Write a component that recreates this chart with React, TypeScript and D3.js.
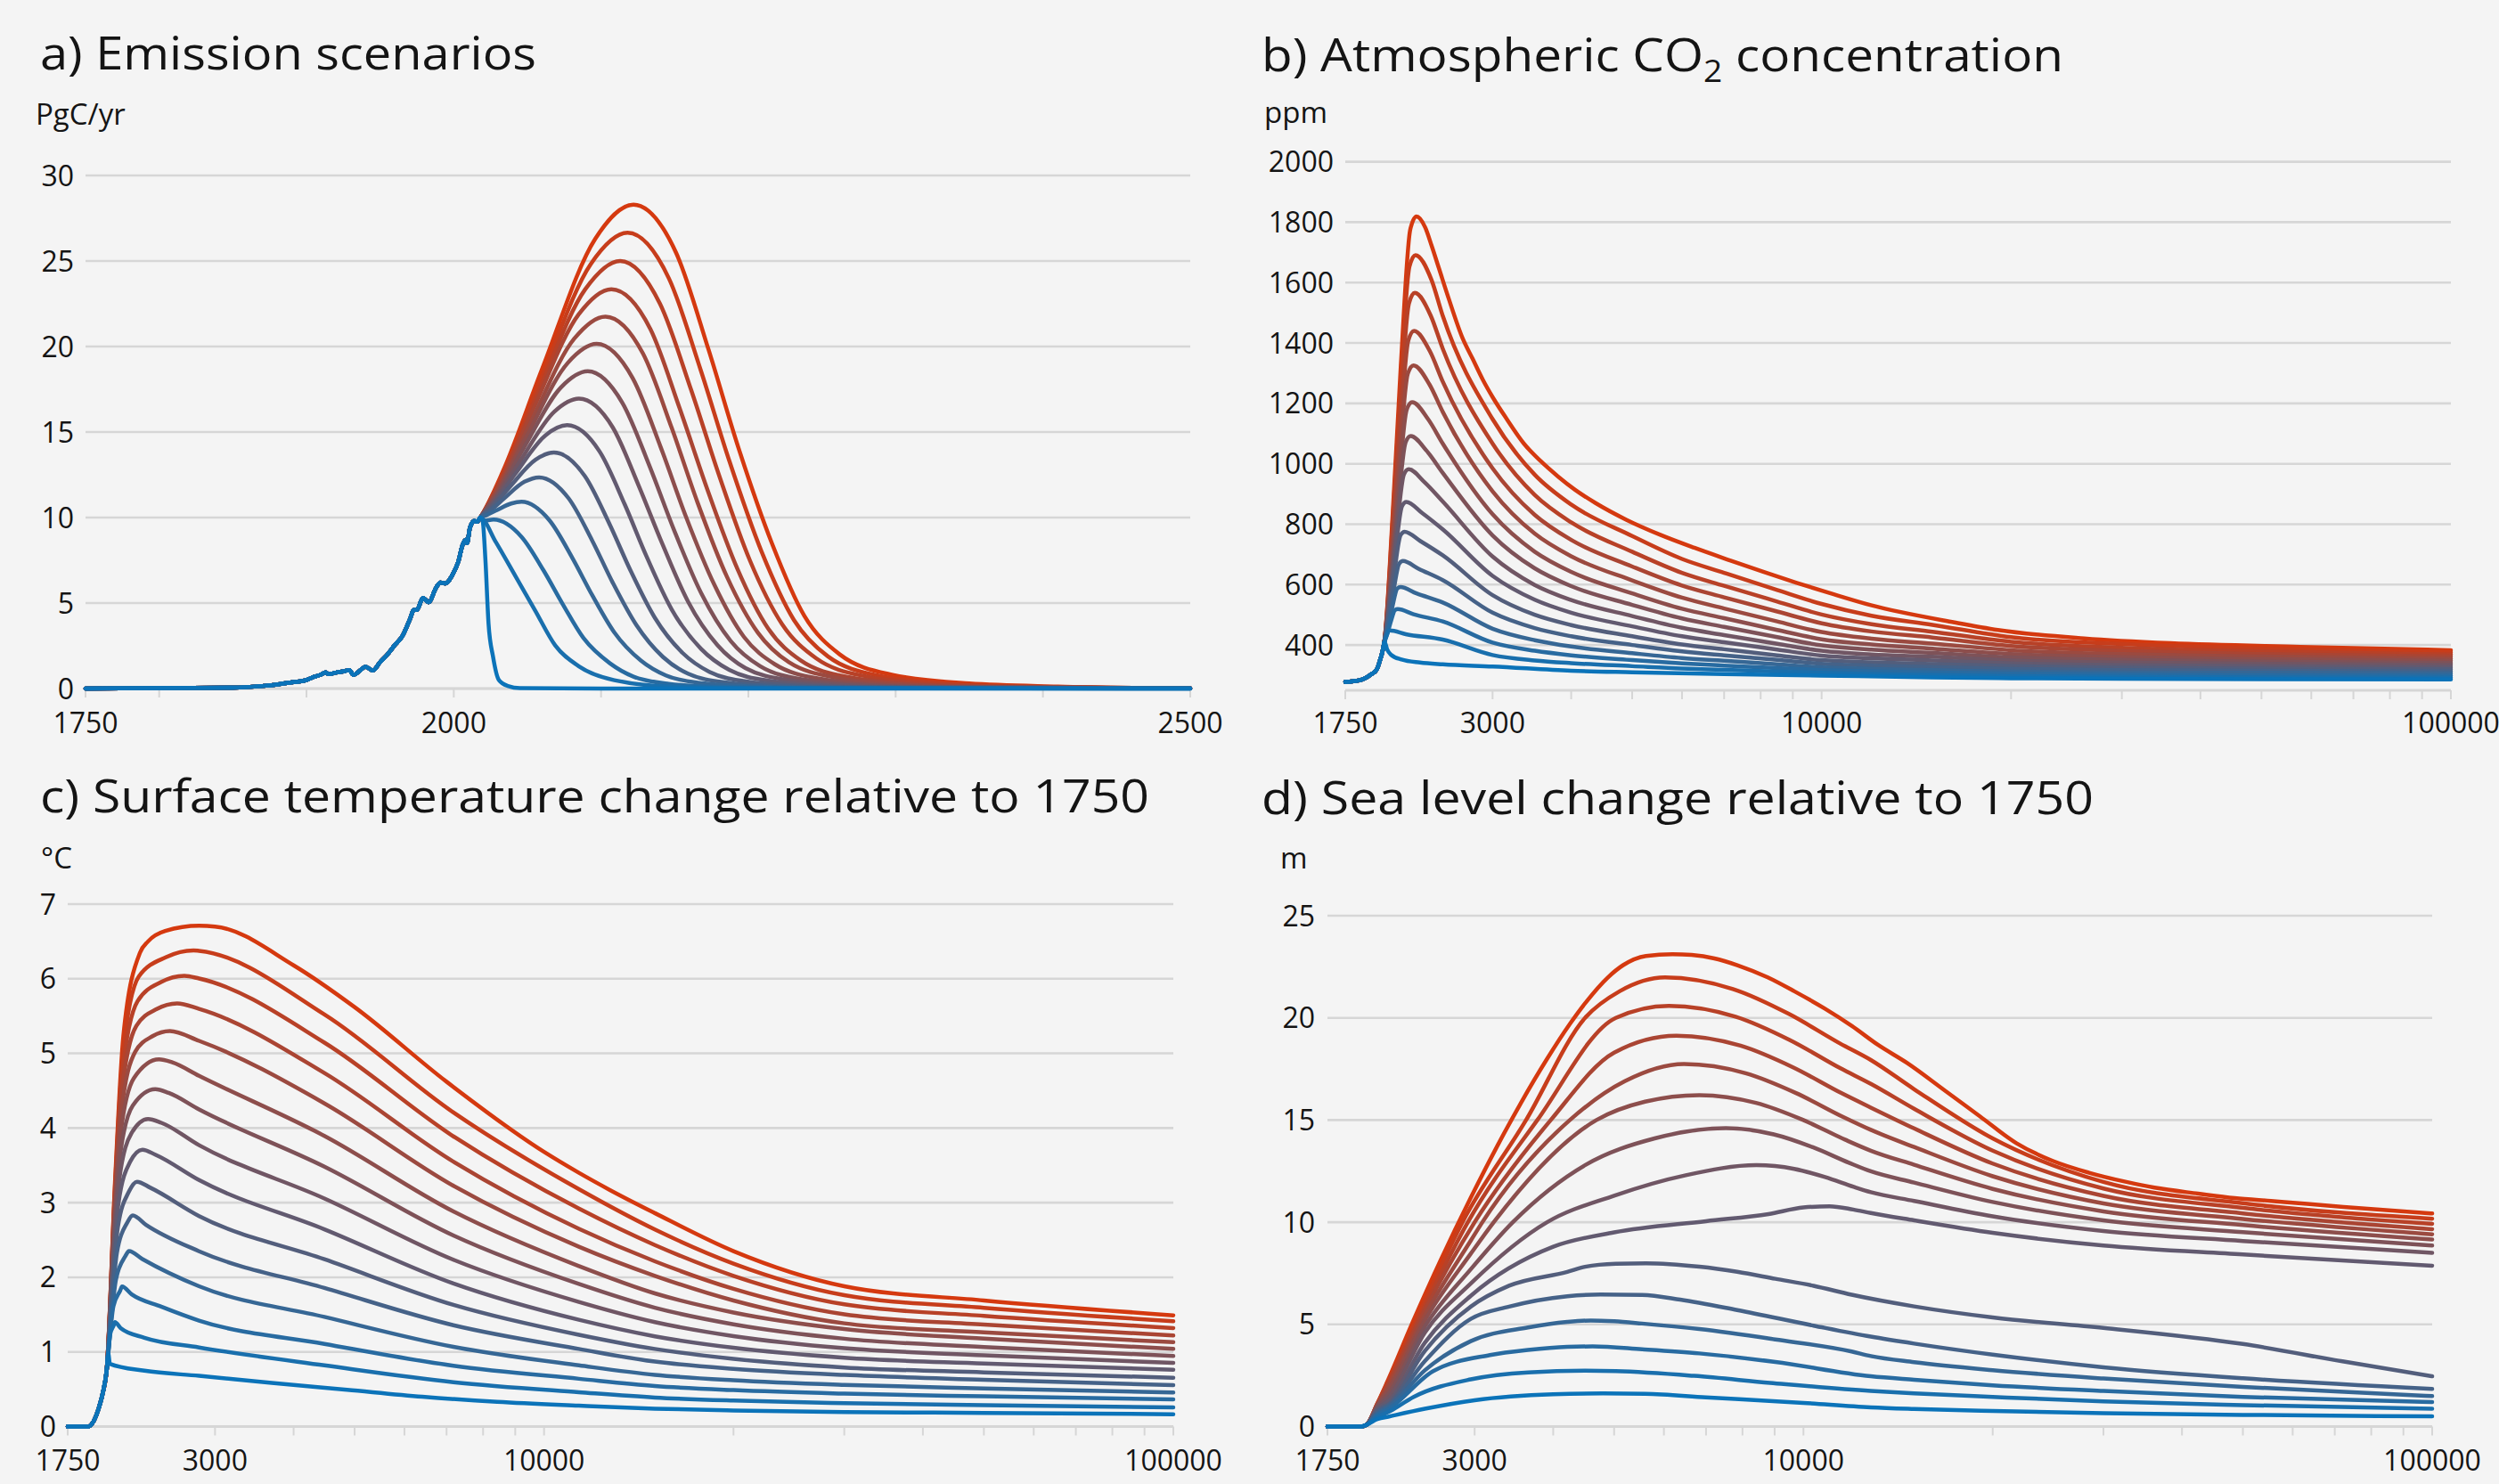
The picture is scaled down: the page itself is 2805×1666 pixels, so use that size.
import React from "react";
import * as d3 from "d3";

type Pt = [number, number];

const WIDTH = 2805;
const HEIGHT = 1666;
const FONT = "'Open Sans', 'Noto Sans', 'DejaVu Sans', sans-serif";
const BLUE = "#0b73b9";
const RED = "#d5390f";
const GRID = "#d6d6d6";
const BG = "#f4f4f4";
const TEXT = "#141414";

// ---------------- a) Emission scenarios (PgC/yr) ----------------
const emissionHistory: Pt[] = [
  [1750, 0], [1850, 0.05], [1870, 0.15], [1880, 0.24], [1890, 0.36], [1900, 0.5], [1905, 0.68],
  [1910, 0.82], [1913, 0.95], [1915, 0.84], [1920, 0.93], [1925, 1.0], [1929, 1.08], [1932, 0.8],
  [1937, 1.1], [1940, 1.28], [1945, 1.06], [1950, 1.55], [1955, 2.0], [1960, 2.55], [1965, 3.05],
  [1970, 4.0], [1973, 4.6], [1975, 4.6], [1979, 5.3], [1983, 5.05], [1988, 5.9], [1991, 6.2],
  [1994, 6.15], [2000, 6.8], [2003, 7.4], [2006, 8.4], [2008, 8.7], [2009, 8.5], [2011, 9.4],
  [2014, 9.8], [2016, 9.75], [2018, 10],
];
const emissionScenarios: Pt[][] = [
  [[2018, 10], [2019.6, 9.8], [2021.5, 7.5], [2023.6, 3.8], [2026.6, 1.89], [2030.6, 0.5], [2036.7, 0.15], [2045, 0.02], [2100, 0], [2500, 0]],
  [[2018, 10], [2028.4, 8.59], [2041.9, 6.57], [2055.4, 4.54], [2068.9, 2.52], [2085, 1.3], [2109, 0.49], [2150, 0.1], [2210, 0.02], [2500, 0]],
  [[2018, 10], [2020, 9.8], [2027, 9.88], [2046, 8.87], [2061, 6.9], [2074, 4.93], [2088, 2.96], [2106, 1.48], [2122, 0.7], [2146, 0.28], [2181, 0.1], [2222, 0.04], [2500, 0]],
  [[2018, 10], [2022.2, 10.14], [2029.2, 10.43], [2039, 10.82], [2046, 10.92], [2065, 9.83], [2080.5, 7.64], [2094, 5.46], [2109, 3.28], [2127, 1.64], [2144, 0.77], [2169, 0.31], [2205, 0.12], [2247, 0.05], [2500, 0.01]],
  [[2018, 10], [2024, 10.35], [2034, 11.1], [2048, 12.09], [2058, 12.35], [2078, 11.12], [2094, 8.65], [2108, 6.18], [2124, 3.71], [2142, 1.85], [2159, 0.87], [2185, 0.35], [2223, 0.13], [2267, 0.05], [2500, 0.01]],
  [[2018, 10], [2025.5, 10.57], [2038, 11.79], [2055.5, 13.38], [2068, 13.8], [2089, 12.42], [2105.5, 9.66], [2120, 6.9], [2136.5, 4.14], [2155.5, 2.07], [2173.5, 0.98], [2200.5, 0.39], [2239.5, 0.15], [2285.5, 0.06], [2500, 0.01]],
  [[2018, 10], [2026.9, 10.81], [2041.6, 12.54], [2062.3, 14.81], [2077, 15.4], [2099, 13.86], [2116, 10.78], [2131, 7.7], [2148, 4.62], [2168, 2.31], [2187, 1.09], [2215, 0.44], [2256, 0.16], [2303, 0.065], [2500, 0.01]],
  [[2018, 10], [2028, 11.04], [2044.8, 13.27], [2068.3, 16.19], [2085, 16.95], [2108, 15.26], [2125.5, 11.87], [2141.5, 8.48], [2159, 5.09], [2179, 2.54], [2198, 1.2], [2228, 0.48], [2270, 0.18], [2318, 0.07], [2500, 0.01]],
  [[2018, 10], [2029, 11.28], [2047.2, 14.02], [2072.8, 17.61], [2091, 18.55], [2114.5, 16.7], [2133, 12.99], [2149.5, 9.28], [2168, 5.57], [2188, 2.78], [2208, 1.31], [2238, 0.52], [2282, 0.2], [2332, 0.08], [2500, 0.01]],
  [[2018, 10], [2029.9, 11.52], [2049.6, 14.77], [2077.3, 19.03], [2097, 20.15], [2121.5, 18.14], [2140.5, 14.11], [2157.5, 10.08], [2177, 6.05], [2197, 3.02], [2218, 1.42], [2249, 0.57], [2294, 0.21], [2345, 0.085], [2500, 0.01]],
  [[2018, 10], [2030.8, 11.76], [2052, 15.52], [2081.8, 20.46], [2103, 21.75], [2128.5, 19.58], [2148, 15.23], [2165.5, 10.88], [2185.5, 6.53], [2206.5, 3.26], [2227.5, 1.54], [2260.5, 0.62], [2306.5, 0.23], [2359.5, 0.09], [2500, 0.01]],
  [[2018, 10], [2031.4, 12.0], [2053.6, 16.27], [2084.8, 21.88], [2107, 23.35], [2133.5, 21.02], [2153.5, 16.35], [2172, 11.68], [2192.5, 7.01], [2213.5, 3.5], [2235.5, 1.65], [2268.5, 0.66], [2316.5, 0.25], [2371.5, 0.1], [2500, 0.01]],
  [[2018, 10], [2032.3, 12.25], [2056, 17.05], [2089.3, 23.35], [2113, 25.0], [2140, 22.5], [2161, 17.5], [2180, 12.5], [2201, 7.5], [2223, 3.75], [2246, 1.77], [2280, 0.71], [2329, 0.27], [2386, 0.1], [2500, 0.01]],
  [[2018, 10], [2033, 12.5], [2058, 17.83], [2093, 24.82], [2118, 26.65], [2146, 23.99], [2167.5, 18.66], [2187, 13.33], [2209, 8.0], [2231, 4.0], [2254, 1.88], [2289, 0.75], [2340, 0.28], [2399, 0.11], [2500, 0.01]],
  [[2018, 10], [2033.6, 12.75], [2059.6, 18.6], [2096, 26.29], [2122, 28.3], [2151, 25.47], [2173, 19.81], [2193, 14.15], [2216, 8.49], [2238, 4.25], [2262, 2.0], [2298, 0.8], [2350, 0.3], [2410, 0.12], [2500, 0.01]],
];

// ---------------- b) Atmospheric CO2 (ppm) ----------------
const co2History: Pt[] = [
  [1750, 278], [1850, 284], [1880, 290], [1900, 295], [1930, 305], [1950, 311], [1960, 317],
  [1970, 325], [1980, 339], [1990, 354], [2000, 369], [2010, 389], [2018, 408],
];
const co2Scenarios: Pt[][] = [
  [[2018, 408], [2021, 410], [2040, 385], [2068, 368], [2150, 352], [2300, 342], [2500, 336], [3000, 329], [4000, 315], [5000, 310], [7000, 304], [10000, 299], [15000, 293], [20000, 290], [30000, 288], [50000, 287], [100000, 286]],
  [[2018, 408], [2028.5, 420], [2039, 434], [2051.6, 446.8], [2060, 448], [2184, 436], [2500, 418], [3000, 367], [3500, 349], [4000, 340], [5000, 330], [6000, 322], [7000, 318], [8500, 312], [10000, 308], [12000, 304], [15000, 301], [20000, 297], [30000, 295], [50000, 293], [100000, 292]],
  [[2018, 408], [2043.5, 441], [2069, 480], [2099.6, 516], [2120, 519], [2247, 502], [2500, 478], [3000, 408], [3500, 381], [4000, 366], [5000, 350], [6000, 339], [7000, 332], [8500, 324], [10000, 317], [12000, 313], [15000, 309], [20000, 305], [30000, 302], [50000, 300], [100000, 299]],
  [[2018, 408], [2049, 463], [2080, 528], [2117.2, 587], [2142, 592], [2271, 571], [2500, 541], [3000, 454], [3500, 416], [4000, 395], [5000, 373], [6000, 357], [7000, 348], [8500, 336], [10000, 326], [12000, 321], [15000, 317], [20000, 312], [30000, 309], [50000, 308], [100000, 306]],
  [[2018, 408], [2053.8, 489], [2089.5, 584], [2132.4, 670], [2161, 678], [2291, 652], [2500, 615], [3000, 507], [3500, 456], [4000, 429], [5000, 400], [6000, 379], [7000, 366], [8500, 351], [10000, 338], [12000, 332], [15000, 327], [20000, 321], [30000, 317], [50000, 315], [100000, 313]],
  [[2018, 408], [2057, 518], [2096, 647], [2142.8, 764], [2174, 775], [2304, 744], [2500, 697], [3000, 565], [3500, 500], [4000, 466], [5000, 429], [6000, 402], [7000, 386], [8500, 366], [10000, 350], [12000, 343], [15000, 337], [20000, 330], [30000, 325], [50000, 322], [100000, 320]],
  [[2018, 408], [2060.5, 548], [2103, 711], [2154, 860], [2188, 874], [2319, 837], [2500, 783], [3000, 629], [3500, 550], [4000, 507], [5000, 462], [6000, 429], [7000, 409], [8500, 385], [10000, 365], [12000, 356], [15000, 349], [20000, 339], [30000, 333], [50000, 330], [100000, 327]],
  [[2018, 408], [2065.3, 580], [2112.5, 781], [2169.2, 965], [2207, 982], [2339, 939], [2500, 875], [3000, 693], [3500, 599], [4000, 549], [5000, 496], [6000, 457], [7000, 433], [8500, 404], [10000, 381], [12000, 369], [15000, 361], [20000, 349], [30000, 342], [50000, 338], [100000, 334]],
  [[2018, 408], [2069.5, 613], [2121, 853], [2182.8, 1072], [2224, 1092], [2357, 1043], [2500, 970], [3000, 763], [3500, 654], [4000, 595], [5000, 533], [6000, 488], [7000, 460], [8500, 426], [10000, 399], [12000, 385], [15000, 374], [20000, 359], [30000, 351], [50000, 345], [100000, 341]],
  [[2018, 408], [2072.3, 647], [2126.5, 925], [2191.6, 1180], [2235, 1204], [2369, 1148], [2500, 1067], [3000, 833], [3500, 709], [4000, 642], [5000, 571], [6000, 520], [7000, 489], [8500, 450], [10000, 419], [12000, 402], [15000, 388], [20000, 370], [30000, 360], [50000, 353], [100000, 348]],
  [[2018, 408], [2075, 683], [2132, 1005], [2200.4, 1299], [2246, 1326], [2381, 1263], [2500, 1172], [3000, 909], [3500, 769], [4000, 694], [5000, 614], [6000, 557], [7000, 521], [8500, 478], [10000, 443], [12000, 421], [15000, 405], [20000, 383], [30000, 370], [50000, 362], [100000, 355]],
  [[2018, 408], [2076.3, 718], [2134.5, 1079], [2204.4, 1409], [2251, 1440], [2386, 1372], [2500, 1272], [3000, 985], [3500, 831], [4000, 748], [5000, 660], [6000, 597], [7000, 558], [8500, 511], [10000, 472], [12000, 445], [15000, 425], [20000, 397], [30000, 381], [50000, 370], [100000, 362]],
  [[2018, 408], [2077.8, 755], [2137.5, 1161], [2209.2, 1531], [2257, 1566], [2392, 1491], [2500, 1381], [3000, 1067], [3500, 897], [4000, 806], [5000, 709], [6000, 639], [7000, 596], [8500, 544], [10000, 501], [12000, 469], [15000, 444], [20000, 411], [30000, 391], [50000, 379], [100000, 369]],
  [[2018, 408], [2079, 793], [2140, 1242], [2213.2, 1653], [2262, 1691], [2398, 1610], [2500, 1490], [3000, 1148], [3500, 964], [4000, 865], [5000, 761], [6000, 685], [7000, 639], [8500, 582], [10000, 536], [12000, 497], [15000, 467], [20000, 426], [30000, 403], [50000, 388], [100000, 376]],
  [[2018, 408], [2081.3, 831], [2144.5, 1325], [2220.4, 1777], [2271, 1819], [2343, 1784], [2402, 1720], [2463, 1650], [2557, 1545], [2688, 1416], [2790, 1347], [2897, 1277], [3006, 1218], [3160, 1148], [3364, 1067], [3581, 1008], [3812, 958], [4057, 914], [4373, 870], [4892, 815], [5541, 765], [6277, 722], [7112, 682], [8057, 643], [9129, 606], [10341, 571], [11977, 532], [16259, 475], [19058, 450], [26130, 422], [35850, 406], [57580, 394], [100000, 383]],
];

// ---------------- c) Surface temperature change (°C) ----------------
const temperatureHistory: Pt[] = [
  [1750, 0], [1885, 0], [1925, 0.075], [1963, 0.26], [1990, 0.45], [2018, 0.75],
];
const temperatureScenarios: Pt[][] = [
  [[2018, 0.75], [2030, 0.98], [2042, 0.84], [2317, 0.748], [2830, 0.68], [3692, 0.586], [4865, 0.493], [6403, 0.4], [8428, 0.33], [11360, 0.28], [15000, 0.24], [20000, 0.215], [30000, 0.195], [50000, 0.183], [100000, 0.165]],
  [[2018, 0.75], [2031.4, 1.02], [2044.8, 1.24], [2072, 1.36], [2080, 1.4], [2124, 1.32], [2317, 1.19], [2830, 1.06], [4477, 0.82], [7178, 0.595], [11360, 0.46], [15000, 0.389], [20000, 0.348], [30000, 0.314], [50000, 0.287], [100000, 0.257]],
  [[2018, 0.75], [2043, 1.23], [2068.4, 1.61], [2120, 1.82], [2135, 1.876], [2212, 1.77], [2464, 1.607], [2830, 1.42], [4477, 1.108], [7178, 0.815], [11360, 0.64], [15000, 0.543], [20000, 0.488], [30000, 0.441], [50000, 0.405], [100000, 0.364]],
  [[2018, 0.75], [2052.5, 1.44], [2087.8, 1.97], [2160, 2.28], [2190, 2.35], [2300, 2.244], [2830, 1.88], [4477, 1.469], [7178, 1.068], [11360, 0.82], [15000, 0.693], [20000, 0.62], [30000, 0.558], [50000, 0.511], [100000, 0.456]],
  [[2018, 0.75], [2056.1, 1.64], [2095.1, 2.33], [2175, 2.73], [2220, 2.83], [2331, 2.703], [2830, 2.349], [4477, 1.857], [7178, 1.358], [11360, 1.04], [15000, 0.87], [20000, 0.773], [30000, 0.691], [50000, 0.628], [100000, 0.555]],
  [[2018, 0.75], [2059.7, 1.83], [2102.3, 2.67], [2190, 3.15], [2255, 3.28], [2368, 3.2], [2830, 2.821], [4477, 2.242], [7178, 1.631], [11360, 1.23], [15000, 1.04], [20000, 0.907], [30000, 0.792], [50000, 0.726], [100000, 0.654]],
  [[2018, 0.75], [2062, 2.01], [2107, 2.99], [2200, 3.55], [2300, 3.71], [2415, 3.64], [2830, 3.302], [4477, 2.643], [7178, 1.917], [11360, 1.43], [15000, 1.209], [20000, 1.055], [30000, 0.922], [50000, 0.845], [100000, 0.761]],
  [[2018, 0.75], [2064.4, 2.18], [2111.8, 3.29], [2210, 3.93], [2348, 4.12], [2465, 4.07], [2830, 3.77], [4477, 3.056], [7178, 2.235], [11360, 1.67], [15000, 1.4], [20000, 1.212], [30000, 1.049], [50000, 0.955], [100000, 0.853]],
  [[2018, 0.75], [2066.7, 2.35], [2116.6, 3.59], [2220, 4.3], [2411, 4.52], [2532, 4.47], [2830, 4.249], [4477, 3.482], [7178, 2.56], [11360, 1.91], [15000, 1.592], [20000, 1.37], [30000, 1.177], [50000, 1.066], [100000, 0.945]],
  [[2018, 0.75], [2069, 2.51], [2121.3, 3.89], [2230, 4.67], [2444, 4.92], [2566, 4.88], [2830, 4.699], [4477, 3.894], [7178, 2.882], [11360, 2.15], [15000, 1.784], [20000, 1.528], [30000, 1.306], [50000, 1.179], [100000, 1.04]],
  [[2018, 0.75], [2071.3, 2.67], [2126.1, 4.17], [2240, 5.02], [2386.7, 5.23], [2543, 5.3], [2830, 5.168], [4477, 4.33], [7178, 3.226], [11360, 2.41], [15000, 2.02], [20000, 1.689], [30000, 1.383], [50000, 1.261], [100000, 1.13]],
  [[2018, 0.75], [2073.7, 2.83], [2131, 4.45], [2250, 5.37], [2424, 5.595], [2612, 5.67], [2830, 5.596], [4477, 4.736], [7178, 3.549], [11360, 2.65], [15000, 2.214], [20000, 1.845], [30000, 1.503], [50000, 1.366], [100000, 1.22]],
  [[2018, 0.75], [2075.9, 2.98], [2135.7, 4.71], [2260, 5.7], [2462, 5.955], [2682, 6.04], [2830, 6.004], [4477, 5.144], [7178, 3.888], [11360, 2.92], [15000, 2.432], [20000, 2.019], [30000, 1.637], [50000, 1.483], [100000, 1.32]],
  [[2018, 0.75], [2078.3, 3.13], [2140.4, 4.97], [2270, 6.03], [2509, 6.29], [2773, 6.38], [2830, 6.374], [4477, 5.521], [7178, 4.208], [11360, 3.18], [15000, 2.64], [20000, 2.183], [30000, 1.76], [50000, 1.591], [100000, 1.41]],
  [[2018, 0.75], [2080.6, 3.27], [2145.1, 5.23], [2280, 6.35], [2348, 6.5], [2500, 6.64], [2830, 6.71], [3000, 6.7], [4000, 6.18], [5000, 5.62], [7000, 4.62], [10000, 3.68], [11360, 3.4], [12724, 3.17], [15000, 2.86], [20000, 2.35], [30000, 1.88], [50000, 1.69], [100000, 1.49]],
];

// ---------------- d) Sea level change (m) ----------------
const seaLevelHistory: Pt[] = [[1750, 0], [1975, 0], [2018, 0.08]];
const seaLevelScenarios: Pt[][] = [
  [[2018, 0.08], [2100, 0.36], [2200, 0.5], [2500, 0.87], [3000, 1.29], [4000, 1.58], [4800, 1.62], [5600, 1.6], [7000, 1.43], [10000, 1.16], [12800, 0.94], [15000, 0.86], [20000, 0.76], [30000, 0.65], [50000, 0.57], [100000, 0.5]],
  [[2018, 0.08], [2100, 0.45], [2200, 0.75], [2400, 1.45], [2958, 2.31], [3650, 2.65], [4495, 2.73], [5030, 2.71], [6700, 2.48], [8850, 2.14], [12800, 1.74], [15000, 1.62], [20000, 1.45], [30000, 1.23], [50000, 1.05], [100000, 0.87]],
  [[2018, 0.08], [2100, 0.55], [2200, 0.9], [2574, 2.7], [3173, 3.5], [3647, 3.75], [4212, 3.9], [4623, 3.92], [5539, 3.78], [6831, 3.58], [9025, 3.16], [12800, 2.46], [15000, 2.29], [20000, 2.02], [30000, 1.74], [50000, 1.45], [100000, 1.2]],
  [[2018, 0.08], [2100, 0.62], [2200, 1.0], [2500, 2.75], [2958, 4.18], [3647, 4.85], [4212, 5.12], [4592, 5.19], [5000, 5.15], [5539, 5.04], [6831, 4.77], [9025, 4.26], [11933, 3.67], [12800, 3.45], [15000, 3.15], [20000, 2.76], [30000, 2.35], [50000, 1.94], [100000, 1.49]],
  [[2018, 0.08], [2100, 0.7], [2200, 1.08], [2500, 3.2], [2958, 5.27], [3403, 5.87], [4212, 6.38], [4754, 6.46], [5539, 6.44], [6369, 6.21], [7849, 5.7], [10376, 4.94], [12800, 4.4], [15000, 4.06], [20000, 3.52], [30000, 2.9], [50000, 2.36], [100000, 1.84]],
  [[2018, 0.08], [2100, 0.78], [2200, 1.15], [2500, 3.7], [2958, 5.87], [3403, 6.89], [4212, 7.57], [4495, 7.82], [5030, 7.97], [5618, 7.99], [6831, 7.82], [7849, 7.57], [9025, 7.23], [10376, 6.89], [11933, 6.45], [15000, 5.88], [20000, 5.34], [30000, 4.83], [50000, 4.04], [72000, 3.19], [100000, 2.46]],
  [[2018, 0.08], [2100, 0.85], [2200, 1.3], [2500, 4.1], [2958, 6.4], [4000, 8.8], [5000, 9.5], [7000, 10.05], [8800, 10.4], [10000, 10.72], [11000, 10.78], [12000, 10.62], [12800, 10.45], [15000, 10.09], [20000, 9.48], [30000, 8.86], [50000, 8.42], [100000, 7.87]],
  [[2018, 0.08], [2100, 0.92], [2200, 1.5], [2500, 4.6], [2958, 7.0], [3911, 10.0], [5000, 11.3], [6500, 12.3], [8419, 12.79], [9667, 12.61], [10823, 12.21], [12020, 11.73], [12800, 11.47], [15000, 11.04], [20000, 10.29], [30000, 9.57], [50000, 9.08], [100000, 8.5]],
  [[2018, 0.08], [2100, 0.98], [2200, 1.7], [2500, 4.9], [2958, 7.7], [3450, 10.0], [4500, 12.8], [5800, 14.1], [7530, 14.6], [8970, 14.3], [10352, 13.67], [11817, 12.91], [12800, 12.49], [15000, 11.94], [20000, 10.99], [30000, 10.09], [50000, 9.51], [100000, 8.86]],
  [[2018, 0.08], [2100, 1.02], [2200, 1.9], [2500, 5.2], [2958, 8.46], [3217, 10.0], [4687, 15.0], [5600, 15.9], [6831, 16.22], [8404, 15.84], [9958, 15.02], [11646, 14.04], [12800, 13.5], [15000, 12.81], [20000, 11.63], [30000, 10.53], [50000, 9.86], [100000, 9.15]],
  [[2018, 0.08], [2100, 1.05], [2200, 2.05], [2500, 5.45], [2958, 9.1], [3086, 10.0], [4252, 15.0], [5200, 16.9], [6459, 17.74], [8094, 17.29], [9734, 16.32], [11551, 15.16], [12800, 14.52], [15000, 13.68], [20000, 12.25], [30000, 10.92], [50000, 10.16], [100000, 9.41]],
  [[2018, 0.08], [2100, 1.07], [2200, 2.2], [2500, 5.7], [3000, 10.0], [3965, 15.0], [5000, 18.3], [6281, 19.13], [7944, 18.64], [9627, 17.58], [11506, 16.31], [12800, 15.61], [15000, 14.59], [20000, 12.87], [30000, 11.29], [50000, 10.43], [100000, 9.66]],
  [[2018, 0.08], [2100, 1.09], [2200, 2.3], [2500, 5.9], [2926, 10.0], [3775, 15.0], [5030, 20.0], [6110, 20.59], [7799, 20.06], [9522, 18.91], [11455, 17.53], [12800, 16.77], [15000, 15.55], [20000, 13.5], [30000, 11.65], [50000, 10.7], [100000, 9.92]],
  [[2018, 0.08], [2100, 1.1], [2200, 2.4], [2500, 6.15], [2869, 10.0], [3622, 15.0], [4495, 20.0], [5100, 21.3], [6024, 21.98], [7725, 21.41], [9470, 20.2], [11430, 18.75], [12800, 17.94], [15000, 16.51], [20000, 14.1], [30000, 11.97], [50000, 10.93], [100000, 10.17]],
  [[2018, 0.08], [2100, 1.12], [2177, 2.17], [2400, 5.22], [2647, 8.12], [2958, 11.2], [3262, 13.75], [3547, 15.79], [3911, 17.99], [4252, 19.7], [4495, 20.71], [4887, 21.98], [5168, 22.58], [5618, 23.03], [6192, 23.12], [6641, 23.08], [7220, 22.91], [7849, 22.58], [8777, 21.98], [9675, 21.3], [10820, 20.45], [11933, 19.61], [13153, 18.67], [14623, 17.79], [16709, 16.49], [19086, 15.18], [21810, 13.87], [24915, 13.0], [28467, 12.42], [32515, 11.98], [36170, 11.69], [42440, 11.4], [48500, 11.18], [55400, 11.04], [63280, 10.9], [72280, 10.75], [82570, 10.61], [100000, 10.43]],
];

// ---------------- ticks ----------------
const emissionYTicks = [0, 5, 10, 15, 20, 25, 30];
const emissionXLabels = [1750, 2000, 2500];
const emissionXTicks = [1750, 1800, 1900, 2000, 2100, 2200, 2300, 2400, 2500];
const co2YTicks = [400, 600, 800, 1000, 1200, 1400, 1600, 1800, 2000];
const temperatureYTicks = [0, 1, 2, 3, 4, 5, 6, 7];
const seaLevelYTicks = [0, 5, 10, 15, 20, 25];
const logXLabels = [1750, 3000, 10000, 100000];
const logXTicks = [1750, 3000, 4000, 5000, 6000, 7000, 8000, 9000, 10000, 20000, 30000, 40000, 50000, 60000, 70000, 80000, 90000, 100000];

const lineColor = (i: number, n: number) => d3.interpolateRgb(BLUE, RED)(i / (n - 1));

function Panel(props: any) {
  const { x, y, yTicks, axisValue, xTicks, xLabels, labelRight, xLabelBaseline, history, scenarios } = props;
  const [x0, x1] = x.range();
  const axisY = y(axisValue);
  const line = d3
    .line<Pt>()
    .x((d) => x(d[0]))
    .y((d) => y(d[1]))
    .curve(d3.curveMonotoneX);
  const n = scenarios.length;
  const order = d3.range(n).reverse();
  return (
    <g>
      {yTicks.map((t: number) => (
        <line key={"g" + t} x1={x0} x2={x1} y1={y(t)} y2={y(t)} stroke={GRID} strokeWidth={2.6} />
      ))}
      <line x1={x0} x2={x1} y1={axisY} y2={axisY} stroke={GRID} strokeWidth={3} />
      {xTicks.map((t: number) => (
        <line key={"t" + t} x1={x(t)} x2={x(t)} y1={axisY} y2={axisY + 10} stroke={GRID} strokeWidth={2} />
      ))}
      {yTicks.map((t: number) => (
        <text key={"yl" + t} x={labelRight} y={y(t)} dy="0.36em" textAnchor="end" fontSize={32} fontFamily={FONT} fill={TEXT}>
          {t}
        </text>
      ))}
      {xLabels.map((t: number) => (
        <text key={"xl" + t} x={x(t)} y={xLabelBaseline} textAnchor="middle" fontSize={32} fontFamily={FONT} fill={TEXT}>
          {t}
        </text>
      ))}
      {order.map((i: number) => (
        <path
          key={"l" + i}
          d={line([...history.slice(0, -1), ...scenarios[i]]) || ""}
          fill="none"
          stroke={lineColor(i, n)}
          strokeWidth={4.5}
          strokeLinejoin="round"
          strokeLinecap="round"
        />
      ))}
    </g>
  );
}

export default function App() {
  const xA = d3.scaleLinear().domain([1750, 2500]).range([96, 1336]);
  const yA = d3.scaleLinear().domain([0, 30]).range([773, 197]);
  const xB = d3.scaleLog().domain([1750, 100000]).range([1510, 2751]);
  const yB = d3.scaleLinear().domain([250, 2000]).range([775, 181.6]);
  const xC = d3.scaleLog().domain([1750, 100000]).range([76, 1317]);
  const yC = d3.scaleLinear().domain([0, 7]).range([1601.5, 1015]);
  const xD = d3.scaleLog().domain([1750, 100000]).range([1490, 2730]);
  const yD = d3.scaleLinear().domain([0, 25]).range([1601.5, 1028]);

  const titleProps = { fontSize: 52, fontFamily: FONT, fill: TEXT, lengthAdjust: "spacingAndGlyphs" as const };
  const unitProps = { fontSize: 33, fontFamily: FONT, fill: TEXT };

  return (
    <div style={{ position: "absolute", left: 0, top: 0, width: WIDTH, height: HEIGHT }}>
      <svg width={WIDTH} height={HEIGHT} viewBox={`0 0 ${WIDTH} ${HEIGHT}`} style={{ display: "block" }}>
        <rect x={0} y={0} width={WIDTH} height={HEIGHT} fill={BG} />

        <text x={45} y={78} textLength={557} {...titleProps}>a) Emission scenarios</text>
        <text x={1416} y={80} textLength={900} {...titleProps}>
          b) Atmospheric CO<tspan fontSize={34} dy={12}>2</tspan><tspan dy={-12}> concentration</tspan>
        </text>
        <text x={45} y={912} textLength={1245} {...titleProps}>c) Surface temperature change relative to 1750</text>
        <text x={1416} y={914} textLength={934} {...titleProps}>d) Sea level change relative to 1750</text>

        <text x={40} y={140} {...unitProps}>PgC/yr</text>
        <text x={1419} y={138} {...unitProps}>ppm</text>
        <text x={46} y={975} {...unitProps}>°C</text>
        <text x={1437} y={975} {...unitProps}>m</text>

        <Panel x={xA} y={yA} yTicks={emissionYTicks} axisValue={0} xTicks={emissionXTicks} xLabels={emissionXLabels}
          labelRight={83} xLabelBaseline={823} history={emissionHistory} scenarios={emissionScenarios} />
        <Panel x={xB} y={yB} yTicks={co2YTicks} axisValue={250} xTicks={logXTicks} xLabels={logXLabels}
          labelRight={1497} xLabelBaseline={823} history={co2History} scenarios={co2Scenarios} />
        <Panel x={xC} y={yC} yTicks={temperatureYTicks} axisValue={0} xTicks={logXTicks} xLabels={logXLabels}
          labelRight={63} xLabelBaseline={1651} history={temperatureHistory} scenarios={temperatureScenarios} />
        <Panel x={xD} y={yD} yTicks={seaLevelYTicks} axisValue={0} xTicks={logXTicks} xLabels={logXLabels}
          labelRight={1476} xLabelBaseline={1651} history={seaLevelHistory} scenarios={seaLevelScenarios} />
      </svg>
    </div>
  );
}
